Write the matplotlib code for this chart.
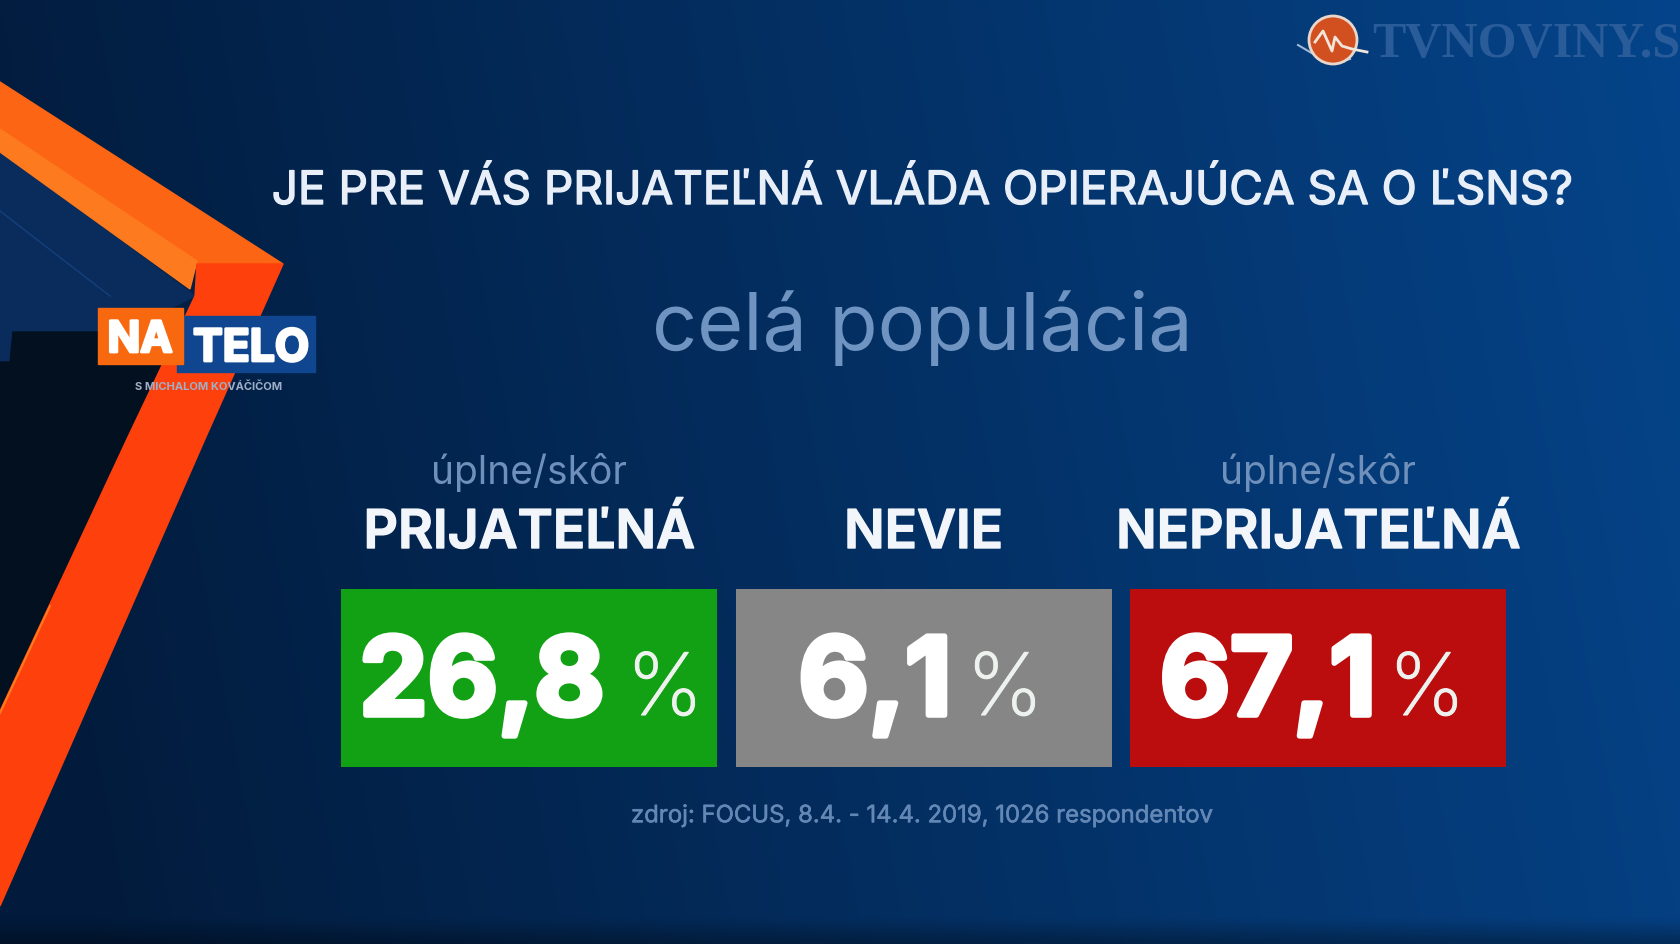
#!/usr/bin/env python3
"""Poll result card: TV screenshot style, everything laid out in 1680x945 pixel coordinates."""
import numpy as np
import matplotlib; matplotlib.use("Agg")
import matplotlib.pyplot as plt
import matplotlib.patheffects as pe
from matplotlib.patches import Polygon, Rectangle, Circle

W, H = 1680, 945
question = "JE PRE VÁS PRIJATEĽNÁ VLÁDA OPIERAJÚCA SA O ĽSNS?"
subtitle = "celá populácia"
prefixes = ["úplne/skôr", "", "úplne/skôr"]
categories = ["PRIJATEĽNÁ", "NEVIE", "NEPRIJATEĽNÁ"]
values = [26.8, 6.1, 67.1]
bar_colors = ["#12a014", "#868686", "#bb0d0e"]
source = "zdroj: FOCUS, 8.4. - 14.4. 2019, 1026 respondentov"

FONT = "Inter"
fig = plt.figure(figsize=(W / 100, H / 100), dpi=100)
ax = fig.add_axes([0, 0, 1, 1]); ax.set_xlim(0, W); ax.set_ylim(H, 0); ax.axis("off")


def heavy(color, lw):
    # no medium/black cut to hand, thicken the glyphs with a stroke of the same colour
    return [pe.withStroke(linewidth=lw, foreground=color)]


# background: navy on the left going to blue on the right, thin dark strip along the bottom edge
xx, yy = np.meshgrid(np.linspace(0, 1, 336), np.linspace(0, 1, 189))
t = np.clip(xx * 0.95 + (0.5 - yy) * 0.10, 0, 1)[..., None]
bg = (1 - t) * np.array([2, 27, 60]) + t * np.array([5, 68, 138])
bg *= (1 - 0.3 * np.clip((yy - 0.975) / 0.025, 0, 1))[..., None]
ax.imshow(bg / 255, extent=[0, W, H, 0], aspect="auto", interpolation="bilinear", zorder=0)
ax.set_xlim(0, W); ax.set_ylim(H, 0)

# orange frame on the left
ax.add_patch(Polygon([(0, 153), (195, 297), (165, 312), (100, 333), (13, 333), (10, 363), (0, 363)],
                     color="#0a2c5c", zorder=1))
ax.add_patch(Polygon([(0, 363), (10, 363), (13, 333), (150, 333), (190, 345), (127, 440), (0, 712)],
                     color="#03101f", zorder=1))
ax.plot([0, 110], [212, 297], color="#15407a", lw=1, zorder=1)
ax.add_patch(Polygon([(0, 83), (283, 265), (197, 265), (0, 130)], color="#fb6514", zorder=2))
ax.add_patch(Polygon([(0, 130), (197, 262), (190, 290), (0, 153)], color="#fd7a1e", zorder=2))
ax.add_patch(Polygon([(197, 265), (283, 265), (205, 440), (0, 907), (0, 712), (127, 440), (195, 297)],
                     color="#fd400c", zorder=2))
ax.plot([0, 50], [714, 607], color="#fd7a1e", lw=1.5, zorder=3)

# NA TELO logo
ax.add_patch(Rectangle((177, 317), 138, 56, color="#0f468f", zorder=3))
ax.add_patch(Rectangle((98, 309), 85, 56, color="#f8690f", zorder=4))
ax.text(140, 353, "NA", color="white", fontsize=31, fontweight="bold", family=FONT,
        ha="center", va="baseline", zorder=5, path_effects=heavy("white", 2))
ax.text(251, 362, "TELO", color="white", fontsize=32, fontweight="bold", family=FONT,
        ha="center", va="baseline", zorder=5, path_effects=heavy("white", 2))
ax.text(209, 387, "S MICHALOM KOVÁČIČOM", color="#9fb0c8", fontsize=8, fontweight="bold", family=FONT,
        ha="center", va="center", zorder=5)

# TV station logo, the name is cut by the frame in the screenshot
ax.add_patch(Circle((1333, 41), 24, facecolor="#d2501f", edgecolor="#e8d8cc", lw=2, zorder=3))
ax.plot([1315, 1323, 1332, 1335, 1342, 1352, 1367], [43, 32, 52, 38, 47, 50, 53],
        color="#f2e6dc", lw=2, zorder=4)
ax.plot([1298, 1315, 1333, 1350], [46, 56, 64, 60], color="#9fb8d8", lw=1.5, zorder=2)
ax.text(1372, 57, "TVNOVINY.S", color="#2a5c9a", fontsize=36, fontweight="bold",
        family="Liberation Serif", ha="left", va="baseline", zorder=3)

ax.text(922, 205, question, color="#e9eff8", fontsize=33.1, family=FONT,
        ha="center", va="baseline", path_effects=heavy("#e9eff8", 1))
ax.text(922, 328, subtitle, color="#7094c2", fontsize=57, family=FONT, ha="center", va="center")

# three equal result boxes; the boxes are all one size, only the text carries the value
box_w, box_h, box_gap, box_left, box_top = 376, 178, 18.5, 341, 590
centers = [box_left + box_w / 2 + i * (box_w + box_gap) for i in range(len(values))]
ax.bar(centers, [box_h] * len(values), width=box_w, bottom=box_top, color=bar_colors, zorder=2)
num_x = [482, 875, 1268]
pct_x = [665, 1005, 1427]
for c, pre, cat, v, nx, px in zip(centers, prefixes, categories, values, num_x, pct_x):
    if pre:
        ax.text(c, 472, pre, color="#6f90bb", fontsize=28, family=FONT, ha="center", va="center")
    ax.text(c, 549, cat, color="#f2f5fa", fontsize=38.5, fontweight="semibold", family=FONT,
            ha="center", va="baseline", path_effects=heavy("#f2f5fa", 1))
    ax.text(nx, 716, f"{v:.1f}".replace(".", ","), color="white", fontsize=78, fontweight="bold",
            family=FONT, ha="center", va="baseline", zorder=3, path_effects=heavy("white", 4))
    ax.text(px, 716, "%", color="#eef2ee", fontsize=62, fontweight="light", family=FONT,
            ha="center", va="baseline", zorder=3, path_effects=heavy("#eef2ee", 0.8))

ax.text(922, 817, source, color="#6488b5", fontsize=17.2, family=FONT, ha="center", va="center",
        path_effects=heavy("#6488b5", 0.4))

fig.savefig("out.png", dpi=100)
print("wrote out.png")
